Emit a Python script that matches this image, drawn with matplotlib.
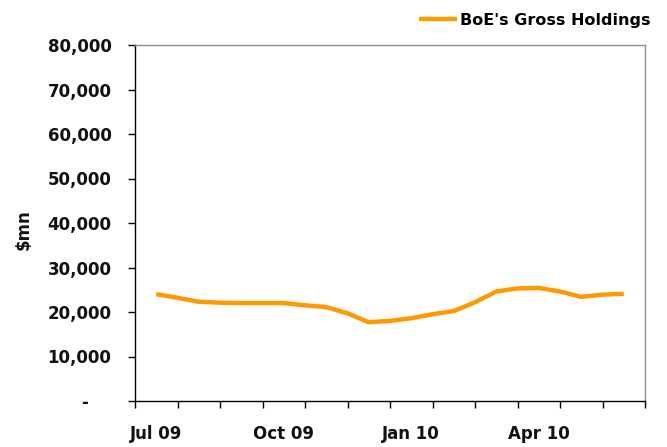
import matplotlib
matplotlib.use('Agg')
import matplotlib.pyplot as plt
import numpy as np

# months Jul 09 .. Jun 10 (category axis), data read roughly twice a month
months = ['Jul 09', 'Aug 09', 'Sep 09', 'Oct 09', 'Nov 09', 'Dec 09',
          'Jan 10', 'Feb 10', 'Mar 10', 'Apr 10', 'May 10', 'Jun 10']
shown_labels = ['Jul 09', 'Oct 09', 'Jan 10', 'Apr 10']

# position in months from start of Jul 09
obs_pos = [0.5, 1.0, 1.5, 2.0, 2.5, 3.0, 3.5, 4.0, 4.5, 5.0, 5.5, 6.0,
           6.5, 7.0, 7.5, 8.0, 8.5, 9.0, 9.5, 10.0, 10.5, 11.0, 11.5]
gross_holdings = [24000, 23200, 22300, 22100, 22000, 22000, 22000, 21500,
                  21100, 19700, 17700, 18000, 18600, 19500, 20200, 22200,
                  24600, 25300, 25400, 24600, 23400, 23900, 24100]

yticks = [0, 10000, 20000, 30000, 40000, 50000, 60000, 70000, 80000]

fig = plt.figure(figsize=(6.67, 4.47), dpi=100)
ax = fig.add_axes([135/667, 46/447, 510/667, 356/447])

ax.plot(obs_pos, gross_holdings, color='#FF9900', lw=3.2,
        solid_capstyle='butt', label="BoE's Gross Holdings")

ax.set_xlim(0, len(months))
ax.set_ylim(0, 80000)

ax.set_xticks(np.arange(len(months) + 1))
ax.set_xticklabels([])
ax.set_xticks(np.arange(len(months)) + 0.5, minor=True)
ax.set_xticklabels([m if m in shown_labels else '' for m in months], minor=True)
ax.tick_params(axis='x', which='major', direction='out', length=5, width=1, color='black')
ax.tick_params(axis='x', which='minor', length=0, pad=17)

ax.set_yticks(yticks)
ax.set_yticklabels(['-    ' if v == 0 else f'{v:,}' for v in yticks])
ax.tick_params(axis='y', direction='out', length=5, width=1, pad=12)

for lab in ax.get_yticklabels() + ax.get_xticklabels(minor=True):
    lab.set_fontweight('bold')
    lab.set_fontsize(12)
    lab.set_color('#111111')

ax.spines['left'].set_color('black')
ax.spines['bottom'].set_color('black')
ax.spines['top'].set_color('#909090')
ax.spines['right'].set_color('#909090')
for s in ax.spines.values():
    s.set_linewidth(1.0)

fig.text(24/667, 1 - 230/447, '\\$mn', rotation=90, ha='center', va='center',
         fontsize=12, fontweight='bold', color='#111111')

ax.legend(loc='center right', bbox_to_anchor=(650/667, 1 - 20/447),
          bbox_transform=fig.transFigure, frameon=False, borderpad=0,
          borderaxespad=0, handlelength=2.4, handletextpad=0.15,
          prop={'size': 11.5, 'weight': 'bold'})

plt.savefig('out.png', dpi=100)
